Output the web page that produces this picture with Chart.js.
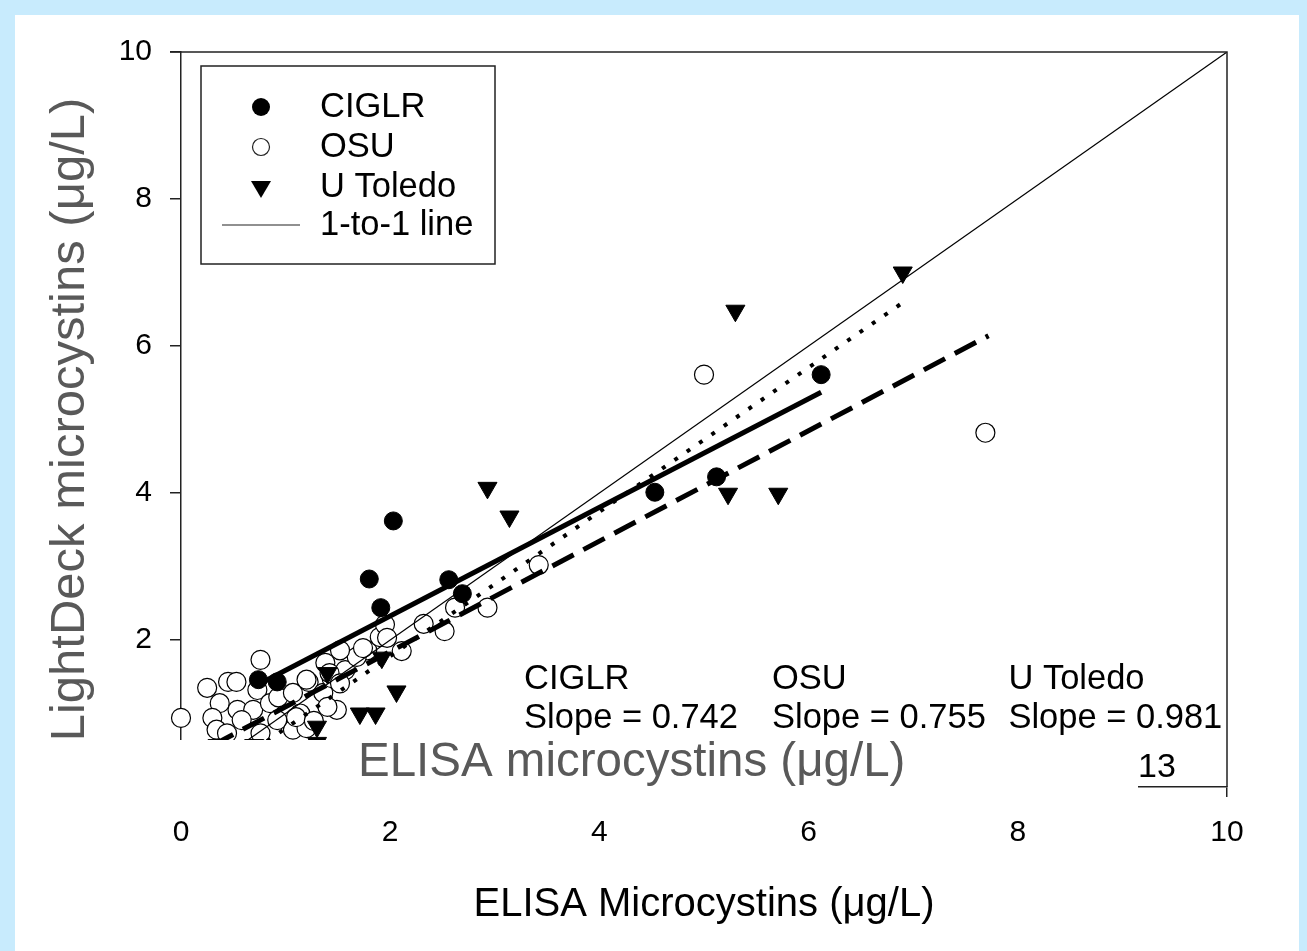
<!DOCTYPE html>
<html>
<head>
<meta charset="utf-8">
<title>LightDeck vs ELISA microcystins</title>
<script src="https://cdn.jsdelivr.net/npm/chart.js@4.4.1/dist/chart.umd.min.js"></script>
<style>
  html, body { margin: 0; padding: 0; overflow: hidden; background: #c8ebfd; }
  #wrap { position: absolute; left: 0; top: 0; width: 1307px; height: 951px; }
</style>
</head>
<body>
<div id="wrap"><canvas id="chart" width="1307" height="951"></canvas></div>
<script>
// 數據
const ciglrX = [6.12, 4.53, 5.12, 2.03, 1.80, 2.56, 1.91, 2.69, 0.74, 0.92];
const ciglrY = [5.61, 4.01, 4.22, 3.62, 2.83, 2.82, 2.44, 2.63, 1.46, 1.43];

const osuX = [0.00, 0.25, 0.45, 0.53, 0.73, 0.37, 0.30, 0.54, 0.69, 0.85, 0.93, 0.58, 0.34, 1.14, 1.07,
              1.22, 1.36, 1.49, 1.38, 1.44, 1.78, 1.90, 1.57, 1.68, 1.07, 0.92, 1.20, 0.76, 0.44, 0.76,
              1.95, 1.52, 1.42, 1.52, 1.40, 2.11, 2.32, 2.52, 2.93, 2.62, 3.42, 5.00, 7.69, 1.97, 1.74,
              1.20, 1.10, 1.27];
const osuY = [0.94, 1.35, 1.43, 1.43, 1.32, 1.14, 0.94, 1.05, 1.05, 1.14, 1.22, 0.91, 0.78, 1.00, 0.78,
              1.43, 1.28, 1.05, 1.69, 1.48, 1.86, 2.04, 1.59, 1.77, 1.28, 0.91, 0.80, 0.73, 0.73, 1.73,
              2.21, 1.86, 1.55, 1.41, 1.09, 1.85, 2.22, 2.12, 2.44, 2.44, 3.02, 5.61, 4.82, 2.03, 1.89,
              1.46, 0.95, 0.90];

const utoledoX = [6.90, 5.30, 2.93, 3.14, 5.23, 5.71, 1.92, 2.06, 1.71, 1.86, 1.40, 1.30, 0.35, 0.70, 1.30];
const utoledoY = [7.00, 6.48, 4.07, 3.68, 3.99, 3.99, 1.76, 1.30, 1.00, 1.00, 1.55, 0.82, 0.57, 0.57, 0.60];

// 回歸線端點與 1:1 線
const ciglrFitX = [0.72, 6.12];
const ciglrFitY = [1.38, 5.37];
const osuFitX = [0.00, 7.72];
const osuFitY = [0.34, 6.14];
const utoledoFitX = [0.35, 6.90];
const utoledoFitY = [0.16, 6.59];
const oneToOneX = [0, 10];
const oneToOneY = [0, 10];

const slopeLabels = [
    { name: 'CIGLR', slope: 'Slope = 0.742', x: 3.28 },
    { name: 'OSU', slope: 'Slope = 0.755', x: 5.65 },
    { name: 'U Toledo', slope: 'Slope = 0.981', x: 7.91 }
];

const xTicks = [0, 2, 4, 6, 8, 10];
const yTicks = [0, 2, 4, 6, 8, 10];

const FONT = 'Arial, "Liberation Sans", sans-serif';
const AXIS = '#222';

function toPoints(xs, ys) {
    return xs.map((x, i) => ({ x: x, y: ys[i] }));
}

// 背景：淺藍外框 + 白色面板
const backgroundPlugin = {
    id: 'panel',
    beforeDraw(chart) {
        const ctx = chart.ctx;
        ctx.save();
        ctx.fillStyle = '#c8ebfd';
        ctx.fillRect(0, 0, chart.width, chart.height);
        ctx.fillStyle = '#ffffff';
        ctx.fillRect(15, 15, 1284, chart.height - 15);
        ctx.restore();
    }
};

// 上、右框線、遮罩、文字、圖例
const overlayPlugin = {
    id: 'overlay',
    afterDraw(chart) {
        const ctx = chart.ctx;
        const a = chart.chartArea;
        const xs = chart.scales.x;
        const ys = chart.scales.y;
        ctx.save();
        // 框線
        ctx.strokeStyle = AXIS;
        ctx.lineWidth = 1.5;
        ctx.beginPath();
        ctx.moveTo(a.left - 11, a.top);
        ctx.lineTo(a.right, a.top);
        ctx.lineTo(a.right, a.bottom);
        ctx.stroke();

        // 斜率文字
        ctx.fillStyle = '#000';
        ctx.font = `34.5px ${FONT}`;
        ctx.textAlign = 'left';
        ctx.textBaseline = 'middle';
        slopeLabels.forEach(s => {
            const px = xs.getPixelForValue(s.x);
            ctx.fillText(s.name, px, ys.getPixelForValue(1.46));
            ctx.fillText(s.slope, px, ys.getPixelForValue(0.93));
        });

        // 白色遮罩
        ctx.fillStyle = '#ffffff';
        ctx.fillRect(15, 740, 1138 - 15, 72);
        ctx.fillStyle = '#595959';
        ctx.font = `47.5px ${FONT}`;
        ctx.textBaseline = 'alphabetic';
        ctx.fillText('ELISA microcystins (μg/L)', 358, 776);
        ctx.fillStyle = '#000';
        ctx.font = `34px ${FONT}`;
        ctx.fillText('13', 1138, 777);

        // 圖例
        const lx = a.left + 20, ly = a.top + 14;
        ctx.lineWidth = 1.5;
        ctx.strokeStyle = AXIS;
        ctx.strokeRect(lx, ly, 294, 198);
        const mx = lx + 60, tx = lx + 119;
        const rows = [ly + 41, ly + 81, ly + 121, ly + 159];
        ctx.fillStyle = '#000';
        ctx.beginPath();
        ctx.arc(mx, rows[0], 9, 0, Math.PI * 2);
        ctx.fill();
        ctx.fillStyle = '#fff';
        ctx.lineWidth = 1.2;
        ctx.beginPath();
        ctx.arc(mx, rows[1], 8.5, 0, Math.PI * 2);
        ctx.fill();
        ctx.stroke();
        ctx.fillStyle = '#000';
        ctx.beginPath();
        ctx.moveTo(mx - 10, rows[2] - 6);
        ctx.lineTo(mx + 10, rows[2] - 6);
        ctx.lineTo(mx, rows[2] + 11);
        ctx.closePath();
        ctx.fill();
        ctx.lineWidth = 1.2;
        ctx.beginPath();
        ctx.moveTo(lx + 21, rows[3]);
        ctx.lineTo(lx + 99, rows[3]);
        ctx.stroke();
        ctx.font = `34.5px ${FONT}`;
        ctx.textBaseline = 'middle';
        ['CIGLR', 'OSU', 'U Toledo', '1-to-1 line'].forEach((t, i) => ctx.fillText(t, tx, rows[i]));
        ctx.restore();
    }
};

const ctx = document.getElementById('chart').getContext('2d');
new Chart(ctx, {
    type: 'scatter',
    data: {
        datasets: [
            { label: 'CIGLR', data: toPoints(ciglrX, ciglrY), pointStyle: 'circle', pointRadius: 9,
              backgroundColor: '#000', borderColor: '#000', borderWidth: 1, clip: false, order: 3 },
            { label: 'OSU', data: toPoints(osuX, osuY), pointStyle: 'circle', pointRadius: 9.5,
              backgroundColor: '#fff', borderColor: '#000', borderWidth: 1.2, clip: false, order: 4 },
            { label: 'U Toledo', data: toPoints(utoledoX, utoledoY), pointStyle: 'triangle', rotation: 180,
              pointRadius: 11, backgroundColor: '#000', borderColor: '#000', borderWidth: 1, clip: false, order: 3 },
            { label: '1-to-1 line', data: toPoints(oneToOneX, oneToOneY), showLine: true, pointRadius: 0,
              borderColor: '#000', borderWidth: 1.2, order: 1 },
            { label: 'CIGLR fit', data: toPoints(ciglrFitX, ciglrFitY), showLine: true, pointRadius: 0,
              borderColor: '#000', borderWidth: 5, order: 1 },
            { label: 'OSU fit', data: toPoints(osuFitX, osuFitY), showLine: true, pointRadius: 0,
              borderColor: '#000', borderWidth: 5, borderDash: [24, 11], order: 1 },
            { label: 'U Toledo fit', data: toPoints(utoledoFitX, utoledoFitY), showLine: true, pointRadius: 0,
              borderColor: '#000', borderWidth: 4, borderDash: [4, 11], order: 1 }
        ]
    },
    options: {
        responsive: false,
        animation: false,
        layout: { padding: { left: 15, top: 52, right: 80, bottom: 0 } },
        plugins: { legend: { display: false }, tooltip: { enabled: false } },
        scales: {
            x: {
                type: 'linear', min: 0, max: 10,
                afterFit: s => { s.height = 164; },
                afterBuildTicks: s => { s.ticks = xTicks.map(v => ({ value: v })); },
                ticks: { padding: 18, color: '#000', font: { family: FONT, size: 30 } },
                grid: { drawOnChartArea: false, drawTicks: true, tickLength: 10, color: AXIS, lineWidth: 1.5 },
                border: { display: true, color: AXIS, width: 1.5 },
                title: { display: true, text: 'ELISA Microcystins (μg/L)', color: '#000',
                         font: { family: FONT, size: 40 }, padding: { top: 0, bottom: 22 } }
            },
            y: {
                type: 'linear', min: 0, max: 10,
                afterFit: s => { s.width = 166; },
                afterBuildTicks: s => { s.ticks = yTicks.map(v => ({ value: v })); },
                ticks: { padding: 18, color: '#000', font: { family: FONT, size: 30 } },
                grid: { drawOnChartArea: false, drawTicks: true, tickLength: 11, color: AXIS, lineWidth: 1.5 },
                border: { display: true, color: AXIS, width: 1.5 },
                title: { display: true, text: 'LightDeck microcystins (μg/L)', color: '#595959',
                         font: { family: FONT, size: 49 }, padding: { top: 26, bottom: 0 } }
            }
        }
    },
    plugins: [backgroundPlugin, overlayPlugin]
});
</script>
</body>
</html>
